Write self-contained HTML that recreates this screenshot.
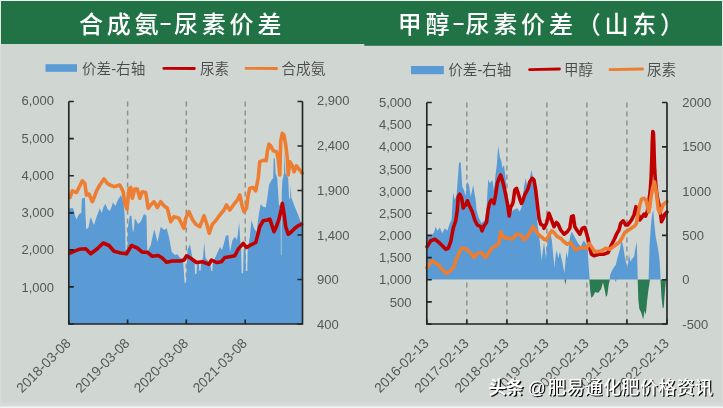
<!DOCTYPE html>
<html lang="zh-CN"><head><meta charset="utf-8"><title>合成氨-尿素价差 / 甲醇-尿素价差（山东）</title>
<style>html,body{margin:0;padding:0;background:#d0d6d2;overflow:hidden}svg{display:block}text{font-family:"Liberation Sans","Noto Sans CJK SC",sans-serif}.ax{fill:#535856;font-size:13px}.xl{fill:#535856;font-size:13.7px}.lg{fill:#4a4a4a;font-size:14.6px;font-weight:350}.tt{fill:#fff;font-size:24px;letter-spacing:3.8px;font-weight:500}</style></head><body>
<svg width="723" height="408" viewBox="0 0 723 408">
<rect x="0" y="0" width="723" height="408" fill="#d0d6d2"/>
<rect x="1" y="1" width="364" height="43" fill="#217346"/>
<rect x="364.3" y="1" width="357.7" height="44.8" fill="#217346"/>
<rect x="0" y="0" width="723" height="1" fill="#eef1ef"/>
<rect x="0" y="0" width="1" height="45" fill="#e6eae7"/><rect x="0" y="45" width="1" height="363" fill="#d8ddd9"/>
<rect x="722" y="0" width="1" height="46" fill="#e6eae7"/><rect x="722" y="46" width="1" height="362" fill="#d8ddd9"/>
<rect x="0" y="402.5" width="723" height="4" fill="#d6dbd8"/>
<rect x="0" y="406.5" width="723" height="1.5" fill="#f4f6f5"/>
<text class="tt" y="33"><tspan x="79">合成氨</tspan><tspan x="160" y="29.4" font-size="20" font-weight="700">–</tspan><tspan x="174" y="33">尿素价差</tspan></text>
<text class="tt" y="33"><tspan x="397.8">甲醇</tspan><tspan x="453" y="29.4" font-size="20" font-weight="700">–</tspan><tspan x="465.5" y="33">尿素价差（山东）</tspan></text>
<rect x="45.5" y="64.2" width="31.5" height="7.6" fill="#5b9bd5"/>
<text class="lg" x="82" y="74">价差-右轴</text>
<line x1="163.8" y1="68.4" x2="194.4" y2="68.5" stroke="#c00000" stroke-width="2.8" stroke-linecap="round"/>
<text class="lg" x="200" y="74">尿素</text>
<line x1="246" y1="68.4" x2="276.6" y2="68.5" stroke="#ed7d31" stroke-width="2.8" stroke-linecap="round"/>
<text class="lg" x="281.5" y="74">合成氨</text>
<rect x="411" y="66" width="32.8" height="8.2" fill="#5b9bd5"/>
<text class="lg" x="448.2" y="74.7">价差-右轴</text>
<line x1="529.6" y1="69.6" x2="559.5" y2="69" stroke="#c00000" stroke-width="2.8" stroke-linecap="round"/>
<text class="lg" x="564" y="74.7">甲醇</text>
<line x1="610" y1="69.6" x2="642.6" y2="69" stroke="#ed7d31" stroke-width="2.8" stroke-linecap="round"/>
<text class="lg" x="646.9" y="74.7">尿素</text>
<line x1="127.6" y1="101.5" x2="127.6" y2="324.0" stroke="#8c918e" stroke-width="1.45" stroke-dasharray="5.1 3.9"/>
<line x1="186.3" y1="101.5" x2="186.3" y2="324.0" stroke="#8c918e" stroke-width="1.45" stroke-dasharray="5.1 3.9"/>
<line x1="245.2" y1="101.5" x2="245.2" y2="324.0" stroke="#8c918e" stroke-width="1.45" stroke-dasharray="5.1 3.9"/>
<polygon points="68.8,324.0 68.8,208.3 73.2,208.3 74.8,215.0 76.6,219.6 78.5,215.0 79.8,213.6 81.3,213.0 81.9,198.8 84.9,197.5 85.5,215.0 86.3,229.4 88.5,227.5 89.8,220.0 91.0,217.5 92.6,222.0 94.1,225.0 96.5,216.7 98.3,212.5 99.8,208.0 101.6,213.0 103.5,207.0 105.4,203.8 107.5,209.0 109.8,211.0 111.5,207.0 112.9,202.5 115.4,206.0 117.9,200.0 121.0,195.0 123.5,202.5 124.4,212.0 125.2,226.7 125.6,249.7 127.4,249.7 127.8,228.0 129.8,215.8 131.5,215.8 132.4,228.0 133.0,233.0 134.0,228.0 134.8,218.3 138.2,224.0 140.7,221.7 144.0,214.0 146.5,215.8 147.0,240.0 147.4,252.0 150.8,245.0 154.2,229.2 157.5,241.7 160.8,226.7 164.2,230.0 166.7,228.3 169.2,238.3 171.7,251.7 175.0,255.0 177.5,254.2 180.0,258.0 183.0,259.0 184.6,283.0 186.0,283.0 187.5,250.0 190.0,244.2 192.0,256.0 194.6,262.0 195.1,274.0 196.5,274.0 197.0,262.0 198.8,262.0 199.3,270.8 200.6,270.8 201.1,262.0 203.0,258.0 204.2,242.0 205.5,258.0 209.0,262.0 210.5,264.0 211.0,270.8 212.4,270.8 212.9,262.0 216.0,256.0 220.0,247.0 222.0,250.0 224.0,243.3 225.8,235.8 228.3,235.0 230.0,252.0 232.5,240.0 235.0,236.7 237.0,240.0 239.2,222.5 240.5,246.0 241.2,250.0 241.7,273.3 243.1,273.3 243.6,250.0 244.5,246.0 245.5,250.0 245.9,271.0 247.3,271.0 247.7,250.0 248.0,248.0 249.8,236.7 251.5,220.0 254.0,228.3 256.5,231.7 259.0,213.3 260.7,204.2 263.2,206.7 265.7,207.5 267.3,198.3 269.0,185.0 270.0,183.0 271.5,180.0 273.2,178.0 273.7,158.3 274.9,158.3 275.6,173.3 277.3,178.3 278.3,196.0 279.0,205.0 280.7,206.0 280.9,255.0 281.5,255.0 281.7,195.0 282.3,181.7 284.0,173.3 284.6,152.0 285.3,173.0 288.2,178.3 289.0,196.7 290.0,200.0 290.7,185.0 291.3,198.0 292.3,200.0 294.8,206.7 298.2,215.0 300.7,221.7 302.5,224.0 302.5,324.0" fill="#5b9bd5"/>
<polyline points="70.0,253.0 74.0,251.3 79.0,249.3 85.7,248.8 90.7,253.8 97.3,248.8 103.2,243.0 109.0,245.5 114.0,251.3 120.7,253.0 126.5,253.8 131.5,245.5 137.3,248.0 142.3,252.2 147.3,252.2 152.3,256.3 158.2,255.5 162.3,258.0 166.5,262.2 172.3,261.0 180.7,261.0 184.0,260.0 186.5,255.8 190.7,258.3 196.5,262.5 202.3,261.7 209.0,264.2 211.5,260.0 216.5,262.5 221.5,261.7 224.8,257.5 229.8,256.7 234.8,255.8 238.2,249.2 243.2,243.3 246.5,247.5 250.7,245.0 255.7,242.5 258.2,233.3 259.8,226.7 263.2,220.8 267.3,220.0 269.8,219.2 271.5,224.2 274.0,231.7 275.7,228.3 279.0,219.2 281.5,208.3 282.3,203.3 284.0,213.3 285.7,226.7 288.2,234.2 291.5,231.7 294.8,228.3 298.2,225.8 301.5,224.2" fill="none" stroke="#c00000" stroke-width="3.6" stroke-linejoin="round" stroke-linecap="round"/>
<polyline points="70.0,197.5 72.3,190.8 76.5,192.5 79.0,187.5 82.3,180.8 84.8,183.3 86.5,195.0 89.0,194.0 92.3,201.7 94.8,195.8 96.5,190.8 99.8,185.0 104.0,179.0 107.3,183.3 109.8,185.0 114.0,186.7 119.8,185.0 123.2,191.7 124.8,203.3 127.0,209.0 129.0,189.0 130.7,187.5 132.3,198.3 134.8,189.0 137.3,189.0 139.8,198.3 142.3,191.7 145.7,192.5 148.2,208.3 150.7,205.0 154.0,201.7 157.3,207.5 160.7,201.7 164.0,205.8 167.3,208.3 170.7,221.7 174.0,216.7 179.0,218.3 183.0,226.7 184.0,228.3 185.7,218.3 189.0,211.7 192.3,219.2 195.7,224.2 199.8,226.7 204.0,215.8 206.5,223.3 209.3,233.3 212.3,224.2 215.7,220.8 219.8,215.0 224.0,210.0 226.5,205.0 229.8,210.0 234.0,204.2 237.3,200.0 239.8,195.0 242.3,206.7 244.0,211.7 246.5,208.3 248.2,195.0 249.8,188.3 253.2,187.5 255.7,190.8 258.2,178.0 259.8,161.7 263.2,160.3 266.2,160.8 267.3,151.7 269.0,144.2 270.7,145.8 273.2,150.8 276.5,151.7 278.2,158.3 279.8,175.0 280.7,141.7 282.3,133.3 284.0,135.0 285.7,145.0 287.3,158.3 288.2,175.0 289.8,161.7 292.3,165.8 294.0,171.7 296.5,165.8 299.0,169.2 302.3,173.3" fill="none" stroke="#ed7d31" stroke-width="3.6" stroke-linejoin="round" stroke-linecap="round"/>
<path d="M68.8 101.5 V324.0 H302.5 V101.5" fill="none" stroke="#222624" stroke-width="1.65"/>
<path d="M68.8 324.0 h5 M68.8 286.9 h5 M68.8 249.8 h5 M68.8 212.8 h5 M68.8 175.7 h5 M68.8 138.6 h5 M68.8 101.5 h5 M302.5 324.0 h-5 M302.5 279.5 h-5 M302.5 235.0 h-5 M302.5 190.5 h-5 M302.5 146.0 h-5 M302.5 101.5 h-5 M68.8 324.0 v-4.5 M127.6 324.0 v-4.5 M186.3 324.0 v-4.5 M245.2 324.0 v-4.5" fill="none" stroke="#222624" stroke-width="1.65"/>
<text class="ax" x="54" y="291.5" text-anchor="end">1,000</text>
<text class="ax" x="54" y="254.4" text-anchor="end">2,000</text>
<text class="ax" x="54" y="217.3" text-anchor="end">3,000</text>
<text class="ax" x="54" y="180.3" text-anchor="end">4,000</text>
<text class="ax" x="54" y="143.2" text-anchor="end">5,000</text>
<text class="ax" x="54" y="105.0" text-anchor="end">6,000</text>
<text class="ax" x="317" y="328.6">400</text>
<text class="ax" x="317" y="284.1">900</text>
<text class="ax" x="317" y="239.6">1,400</text>
<text class="ax" x="317" y="195.1">1,900</text>
<text class="ax" x="317" y="149.9">2,400</text>
<text class="ax" x="317" y="105.0">2,900</text>
<text class="xl" transform="translate(71.6,344.0) rotate(-45)" text-anchor="end">2018-03-08</text>
<text class="xl" transform="translate(130.4,344.0) rotate(-45)" text-anchor="end">2019-03-08</text>
<text class="xl" transform="translate(189.1,344.0) rotate(-45)" text-anchor="end">2020-03-08</text>
<text class="xl" transform="translate(248.0,344.0) rotate(-45)" text-anchor="end">2021-03-08</text>
<line x1="466.8" y1="102.5" x2="466.8" y2="324.0" stroke="#8c918e" stroke-width="1.45" stroke-dasharray="5.1 3.9"/>
<line x1="506.9" y1="102.5" x2="506.9" y2="324.0" stroke="#8c918e" stroke-width="1.45" stroke-dasharray="5.1 3.9"/>
<line x1="546.9" y1="102.5" x2="546.9" y2="324.0" stroke="#8c918e" stroke-width="1.45" stroke-dasharray="5.1 3.9"/>
<line x1="586.9" y1="102.5" x2="586.9" y2="324.0" stroke="#8c918e" stroke-width="1.45" stroke-dasharray="5.1 3.9"/>
<line x1="626.9" y1="102.5" x2="626.9" y2="324.0" stroke="#8c918e" stroke-width="1.45" stroke-dasharray="5.1 3.9"/>
<polygon points="426.8,279.5 426.8,235.0 431.5,235.0 434.0,232.5 435.7,226.7 437.5,231.0 439.8,227.5 442.3,233.3 444.8,228.3 447.3,230.8 449.8,223.3 451.5,220.0 452.7,200.0 453.2,192.5 454.8,200.0 456.5,196.0 459.0,162.5 460.7,162.5 462.3,186.7 464.0,190.0 465.5,196.0 467.3,181.7 469.0,185.0 470.7,196.7 473.2,185.0 474.8,195.0 475.7,200.0 476.5,210.0 479.0,218.3 481.5,223.3 484.8,220.0 486.5,210.0 487.3,195.0 488.2,179.2 489.8,183.3 492.3,180.0 494.0,190.0 495.7,173.3 496.8,165.0 498.2,145.8 499.8,156.7 501.5,161.7 502.3,168.3 504.0,165.0 505.7,178.3 506.8,203.3 508.2,210.0 510.7,213.3 513.2,210.0 517.3,208.3 519.8,211.7 522.3,205.0 524.0,186.7 525.7,178.3 527.3,186.7 529.8,178.3 531.5,170.0 533.2,178.3 534.8,190.0 536.5,213.0 537.5,224.0 539.2,236.0 540.8,251.8 541.7,260.6 542.7,251.8 544.0,242.3 545.2,251.8 546.0,259.0 546.8,248.7 547.9,237.5 549.3,231.5 550.3,232.7 551.9,240.7 553.2,255.0 554.5,267.8 555.7,255.0 556.7,250.3 558.3,258.2 559.9,251.8 562.3,261.4 564.3,273.5 565.6,259.8 566.3,251.8 567.8,258.2 569.1,243.9 570.2,236.0 571.8,231.5 574.2,236.0 577.4,242.3 580.6,246.5 583.8,240.5 586.2,243.9 587.8,251.8 588.8,267.8 589.6,279.5 609.6,279.5 610.2,275.0 611.8,271.0 613.8,267.6 615.8,264.7 617.3,258.3 619.8,250.0 621.5,240.0 623.2,246.7 624.8,256.7 626.0,262.0 627.5,268.6 629.0,254.2 630.5,262.0 631.5,259.8 634.0,256.7 635.7,246.7 636.8,241.7 637.3,261.8 637.8,279.5 648.6,279.5 649.1,261.8 649.6,245.0 650.7,228.3 652.0,215.0 653.2,210.0 654.3,223.3 655.7,236.7 657.3,245.0 659.0,255.0 659.9,265.7 660.6,279.5 665.7,279.5 666.2,269.6 667.0,255.0 667.0,279.5" fill="#5b9bd5"/>
<polygon points="564.5,279.5 565.3,284.8 566.3,279.5" fill="#2a7a52"/>
<polygon points="589.3,279.5 590.3,291.2 591.3,298.0 593.2,296.0 595.2,292.0 598.1,293.0 601.0,289.2 603.0,282.4 604.6,289.2 606.0,297.0 607.3,295.0 608.6,285.3 609.8,279.5" fill="#2a7a52"/>
<polygon points="615.2,279.5 615.8,282.0 616.4,279.5" fill="#2a7a52"/>
<polygon points="637.7,279.5 638.3,299.0 639.3,308.8 641.3,312.7 643.2,319.6 644.6,310.8 645.8,314.7 647.1,301.0 648.5,289.2 650.0,279.5" fill="#2a7a52"/>
<polygon points="660.5,279.5 661.5,297.0 662.8,308.8 663.8,306.9 664.8,293.0 665.8,281.4 666.3,279.5" fill="#2a7a52"/>
<polyline points="427.0,246.7 430.7,240.8 434.8,239.2 439.0,242.5 442.3,245.8 445.7,249.2 448.2,248.3 450.7,241.7 453.2,228.3 455.7,220.8 457.3,210.0 458.2,196.7 459.8,194.2 461.5,197.5 463.2,208.0 464.5,206.0 465.7,205.0 467.3,200.8 469.8,206.5 472.3,211.7 474.8,220.0 477.3,225.0 480.7,226.7 482.0,230.8 484.0,225.8 486.5,222.5 488.2,209.0 489.8,202.5 491.5,200.0 494.0,203.5 495.7,194.5 497.3,183.3 499.0,178.3 500.7,175.0 502.3,180.0 504.0,186.7 505.7,195.0 507.3,203.0 509.2,216.0 510.7,207.0 512.3,204.5 513.2,201.7 514.8,190.0 516.5,188.3 518.2,193.3 519.8,199.0 521.5,203.5 523.2,199.5 524.8,194.5 526.5,191.7 528.2,188.3 529.8,181.7 532.3,178.3 534.0,180.0 535.7,190.0 537.3,204.0 539.0,218.3 540.7,224.2 543.2,225.8 544.0,228.3 546.5,223.3 549.0,213.3 551.5,220.0 554.0,226.7 556.5,222.5 558.0,224.0 560.7,230.0 564.0,234.2 567.3,231.7 569.8,228.3 571.5,216.7 573.2,215.8 574.8,226.7 577.3,230.8 579.8,234.2 582.3,228.3 584.8,227.5 586.5,233.3 588.2,239.2 589.8,248.3 591.5,254.2 594.0,255.8 599.0,254.2 604.0,254.2 608.2,252.5 609.8,248.3 612.3,243.3 614.8,238.3 616.5,234.2 619.0,230.0 620.7,223.3 623.2,220.8 625.7,225.0 627.5,225.0 629.0,223.3 631.5,220.0 634.0,215.0 636.0,206.7 638.2,213.3 639.8,220.0 642.3,216.7 644.0,214.2 645.5,216.0 647.3,211.7 649.0,200.0 650.2,191.0 651.2,176.0 651.8,160.0 652.3,142.0 652.8,131.5 653.4,133.0 653.9,146.0 654.3,160.0 654.8,172.0 655.6,183.0 656.6,192.0 657.6,199.0 659.0,205.0 660.7,215.0 661.5,221.7 663.2,218.3 665.0,214.0 667.0,212.0" fill="none" stroke="#c00000" stroke-width="3.6" stroke-linejoin="round" stroke-linecap="round"/>
<polyline points="427.0,267.8 431.5,261.0 434.0,262.0 439.0,265.3 443.2,270.3 446.5,273.7 450.7,270.3 454.0,267.0 455.7,260.5 458.2,255.0 461.5,248.3 464.8,248.3 468.2,250.8 471.5,254.2 474.0,257.5 477.3,253.3 481.5,252.5 485.7,257.5 489.0,252.5 492.3,247.5 495.7,245.8 499.0,243.3 500.7,231.7 502.3,235.8 505.7,238.3 509.0,238.3 512.3,239.2 516.5,234.2 520.7,235.0 524.0,240.0 527.3,236.7 530.7,230.8 533.2,226.7 535.7,230.8 539.0,235.0 543.2,238.3 544.0,239.2 546.5,240.0 549.0,235.0 551.5,230.8 554.0,232.5 557.3,236.7 560.7,238.3 564.0,241.7 567.3,244.2 570.7,242.5 573.2,246.7 575.7,250.0 579.0,248.3 583.2,247.5 586.5,248.3 589.0,243.3 591.5,246.7 594.0,250.8 597.3,251.7 601.5,250.8 605.7,248.3 609.8,249.2 613.2,246.7 616.5,244.2 619.8,241.7 622.3,237.5 624.8,232.5 627.3,230.8 629.8,229.2 632.3,227.5 634.8,225.8 636.5,223.3 638.2,213.3 639.8,205.0 641.5,199.2 644.0,198.3 646.0,200.0 647.3,206.0 648.7,212.0 649.8,207.0 650.6,199.4 652.5,188.4 654.3,181.8 655.8,188.4 657.0,198.0 658.2,209.0 659.8,213.0 661.5,209.0 663.2,204.5 666.9,201.6" fill="none" stroke="#ed7d31" stroke-width="3.6" stroke-linejoin="round" stroke-linecap="round"/>
<path d="M426.8 102.5 V324.0 H667.0 V102.5" fill="none" stroke="#222624" stroke-width="1.65"/>
<path d="M426.8 324.0 h5 M426.8 301.9 h5 M426.8 279.7 h5 M426.8 257.6 h5 M426.8 235.4 h5 M426.8 213.2 h5 M426.8 191.1 h5 M426.8 168.9 h5 M426.8 146.8 h5 M426.8 124.7 h5 M426.8 102.5 h5 M667.0 324.0 h-5 M667.0 279.7 h-5 M667.0 235.4 h-5 M667.0 191.1 h-5 M667.0 146.8 h-5 M667.0 102.5 h-5 M426.8 324.0 v-4.5 M466.8 324.0 v-4.5 M506.9 324.0 v-4.5 M546.9 324.0 v-4.5 M586.9 324.0 v-4.5 M626.9 324.0 v-4.5 M667.0 324.0 v-4.5" fill="none" stroke="#222624" stroke-width="1.65"/>
<text class="ax" x="411.5" y="306.5" text-anchor="end">500</text>
<text class="ax" x="411.5" y="284.3" text-anchor="end">1,000</text>
<text class="ax" x="411.5" y="262.2" text-anchor="end">1,500</text>
<text class="ax" x="411.5" y="240.0" text-anchor="end">2,000</text>
<text class="ax" x="411.5" y="217.8" text-anchor="end">2,500</text>
<text class="ax" x="411.5" y="195.7" text-anchor="end">3,000</text>
<text class="ax" x="411.5" y="173.5" text-anchor="end">3,500</text>
<text class="ax" x="411.5" y="151.4" text-anchor="end">4,000</text>
<text class="ax" x="411.5" y="129.2" text-anchor="end">4,500</text>
<text class="ax" x="411.5" y="107.1" text-anchor="end">5,000</text>
<text class="ax" x="682.3" y="328.6">-500</text>
<text class="ax" x="682.3" y="284.3">0</text>
<text class="ax" x="682.3" y="240.0">500</text>
<text class="ax" x="682.3" y="195.7">1000</text>
<text class="ax" x="682.3" y="151.4">1500</text>
<text class="ax" x="682.3" y="107.1">2000</text>
<text class="xl" transform="translate(429.6,344.0) rotate(-45)" text-anchor="end">2016-02-13</text>
<text class="xl" transform="translate(469.6,344.0) rotate(-45)" text-anchor="end">2017-02-13</text>
<text class="xl" transform="translate(509.7,344.0) rotate(-45)" text-anchor="end">2018-02-13</text>
<text class="xl" transform="translate(549.7,344.0) rotate(-45)" text-anchor="end">2019-02-13</text>
<text class="xl" transform="translate(589.7,344.0) rotate(-45)" text-anchor="end">2020-02-13</text>
<text class="xl" transform="translate(629.7,344.0) rotate(-45)" text-anchor="end">2021-02-13</text>
<text class="xl" transform="translate(669.8,344.0) rotate(-45)" text-anchor="end">2022-02-13</text>
<text y="393.6" font-size="17.8" font-weight="500" fill="#101010" transform="translate(1.3,1.3)"><tspan x="488.4" letter-spacing="-0.3" font-weight="700">头条</tspan><tspan letter-spacing="0"> </tspan><tspan x="527.8" font-size="17.6" letter-spacing="0">@</tspan><tspan x="548.0" letter-spacing="0.6">肥易通化肥价格资讯</tspan></text>
<text y="393.6" font-size="17.8" font-weight="500" fill="#ffffff"><tspan x="488.4" letter-spacing="-0.3" font-weight="700">头条</tspan><tspan letter-spacing="0"> </tspan><tspan x="527.8" font-size="17.6" letter-spacing="0">@</tspan><tspan x="548.0" letter-spacing="0.6">肥易通化肥价格资讯</tspan></text>
</svg></body></html>
